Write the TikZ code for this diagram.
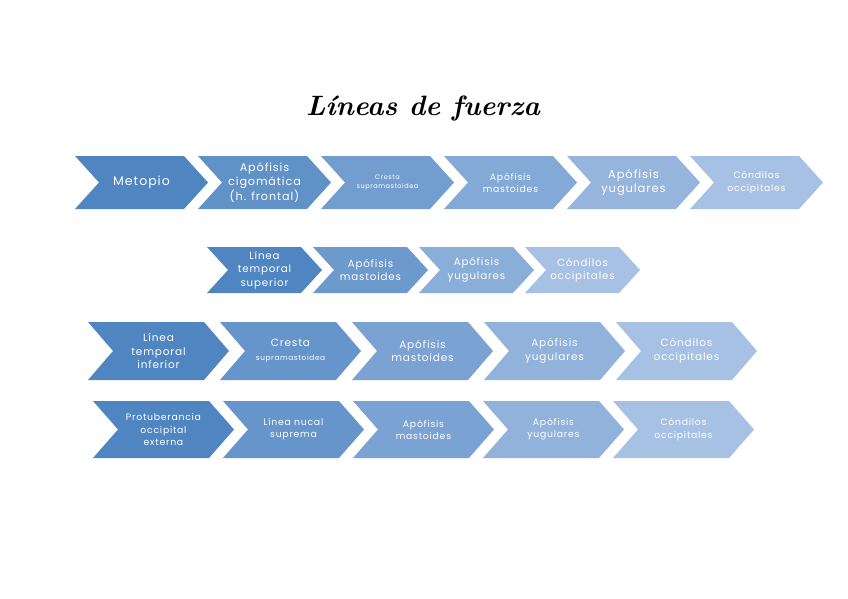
\documentclass[tikz,border=0pt]{standalone}
\usepackage{fontspec}
\setsansfont{Poppins}[LetterSpace=8]
\usetikzlibrary{calc}
\definecolor{cA}{RGB}{79,134,193}
\definecolor{cB}{RGB}{166,193,228}
\tikzset{
  chevtext/.style={text=white, font=\sffamily, align=center, inner sep=0pt},
  ttl/.style={font=\fontsize{28}{30}\selectfont\bfseries\itshape, inner sep=0pt}
}
% #1 name, #2 x, #3 y, #4 w, #5 h, #6 depth, #7 colour mix, #8 font size, #9 text
\newcommand\chevr[9]{%
  \fill[cA!#7!cB] (#2,#3) -- ++(#4-#6,0) -- ++(#6,#5/2) -- ++(-#6,#5/2) -- ++(-#4+#6,0) -- ++(#6,-#5/2) -- cycle;
  \node[chevtext, font=\sffamily\fontsize{#8}{\fpeval{1.3*#8}}\selectfont] (#1) at (#2+#4/2,#3+#5/2) {#9};
}
\begin{document}
\begin{tikzpicture}[x=1pt,y=-1pt]
\useasboundingbox[fill=white] (0,0) rectangle (848,599);
\node[ttl] (title) at (423,109) {Líneas de fuerza};
% row 1
\chevr{a1}{75}{156}{133}{53}{24}{100}{12.5}{Metopio}
\chevr{a2}{198}{156}{133}{53}{24}{80}{11.2}{Apófisis\\cigomática\\(h. frontal)}
\chevr{a3}{321}{156}{133}{53}{24}{60}{6.6}{Cresta\\supramastoidea}
\chevr{a4}{444}{156}{133}{53}{24}{40}{9.3}{Apófisis\\mastoides}
\chevr{a5}{567}{156}{133}{53}{24}{20}{11.5}{Apófisis\\yugulares}
\chevr{a6}{690}{156}{133}{53}{24}{0}{9.3}{Cóndilos\\occipitales}
% row 2
\chevr{b1}{207}{247}{115}{46}{21}{100}{10.3}{Línea\\temporal\\superior}
\chevr{b2}{313}{247}{115}{46}{21}{67}{10.3}{Apófisis\\mastoides}
\chevr{b3}{419}{247}{115}{46}{21}{33}{10.3}{Apófisis\\yugulares}
\chevr{b4}{525}{247}{115}{46}{21}{0}{10.3}{Cóndilos\\occipitales}
% row 3
\chevr{c1}{88}{322}{141}{58}{25}{100}{10.5}{Línea\\temporal\\inferior}
\chevr{c2}{220}{322}{141}{58}{25}{75}{10.5}{Cresta\\{\fontsize{7.4}{8}\selectfont supramastoidea}}
\chevr{c3}{352}{322}{141}{58}{25}{50}{10.5}{Apófisis\\mastoides}
\chevr{c4}{484}{322}{141}{58}{25}{25}{10.5}{Apófisis\\yugulares}
\chevr{c5}{616}{322}{141}{58}{25}{0}{10.5}{Cóndilos\\occipitales}
% row 4
\chevr{d1}{93}{401}{141}{57}{25}{100}{9.3}{Protuberancia\\occipital\\externa}
\chevr{d2}{223}{401}{141}{57}{25}{75}{9.3}{Línea nucal\\suprema}
\chevr{d3}{353}{401}{141}{57}{25}{50}{9.3}{Apófisis\\mastoides}
\chevr{d4}{483}{401}{141}{57}{25}{25}{9.3}{Apófisis\\yugulares}
\chevr{d5}{613}{401}{141}{57}{25}{0}{9.3}{Cóndilos\\occipitales}
\end{tikzpicture}
\end{document}
